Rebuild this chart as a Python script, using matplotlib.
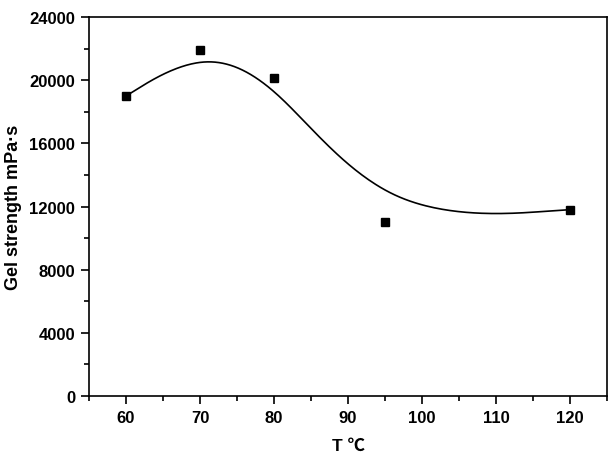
import numpy as np
import matplotlib
matplotlib.use("Agg")
import matplotlib.pyplot as plt
from matplotlib.ticker import MultipleLocator

# Data
temp = [60, 70, 80, 95, 120]
gel = [19000, 21900, 20150, 11000, 11800]

x_ticks = [60, 70, 80, 90, 100, 110, 120]
y_ticks = [0, 4000, 8000, 12000, 16000, 20000, 24000]


def bspline(px, py, n=60):
    # uniform cubic B-spline, data points as control points,
    # end points repeated so the curve starts/ends on them (Origin B-Spline look)
    qx = [px[0]] * 2 + list(px) + [px[-1]] * 2
    qy = [py[0]] * 2 + list(py) + [py[-1]] * 2
    t = np.linspace(0, 1, n)
    b = np.array([(1 - t) ** 3, 3 * t ** 3 - 6 * t ** 2 + 4,
                  -3 * t ** 3 + 3 * t ** 2 + 3 * t + 1, t ** 3]) / 6
    xs, ys = [], []
    for i in range(len(qx) - 3):
        xs.append(b.T @ np.array(qx[i:i + 4], float))
        ys.append(b.T @ np.array(qy[i:i + 4], float))
    return np.concatenate(xs), np.concatenate(ys)


plt.rcParams['font.family'] = ['Liberation Sans', 'Noto Sans CJK SC', 'DejaVu Sans']
plt.rcParams['font.weight'] = 'bold'

fig = plt.figure(figsize=(6.14, 4.56), dpi=100)
ax = fig.add_axes([0.1450, 0.1294, 0.8436, 0.8311])

cx, cy = bspline(temp, gel)
ax.plot(cx, cy, color='black', lw=1.2)
ax.plot(temp, gel, 's', color='black', markersize=6.2)

ax.set_xlim(55, 125)
ax.set_ylim(0, 24000)
ax.set_xticks(x_ticks)
ax.set_yticks(y_ticks)
ax.xaxis.set_minor_locator(MultipleLocator(5))
ax.yaxis.set_minor_locator(MultipleLocator(2000))
ax.tick_params(which='both', direction='out', width=1.2, labelsize=12)
ax.tick_params(which='major', length=6, pad=4)
ax.tick_params(which='minor', length=3.5)
for s in ax.spines.values():
    s.set_linewidth(1.2)
for lab in ax.get_xticklabels() + ax.get_yticklabels():
    lab.set_fontweight('bold')

ax.set_xlabel('T ℃', fontsize=12.5, fontweight='bold', labelpad=9)
ax.set_ylabel('Gel strength mPa·s', fontsize=13, fontweight='bold', labelpad=5)

fig.savefig('out.png', dpi=100)
